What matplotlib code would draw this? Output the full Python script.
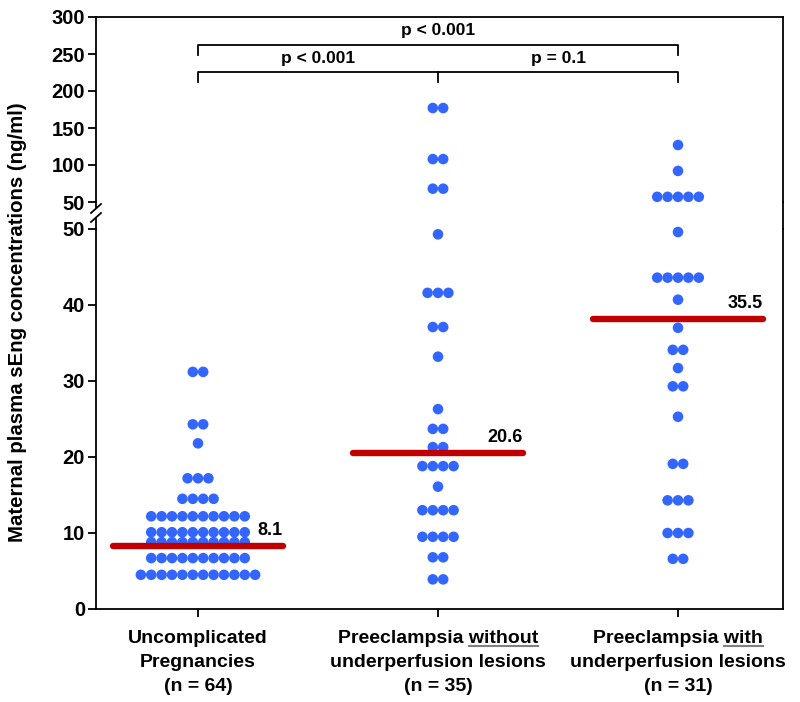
import matplotlib
matplotlib.use("Agg")
import matplotlib.pyplot as plt
import matplotlib.transforms as mtransforms
from matplotlib.lines import Line2D

plt.rcParams['font.family'] = ['Liberation Sans', 'DejaVu Sans']
plt.rcParams['font.weight'] = 'bold'

# ---------------- data ----------------
group_positions = [1, 2, 3]
label_line1 = ["Uncomplicated", "Preeclampsia without", "Preeclampsia with"]
label_underline = [None, "without", "with"]
label_line2 = ["Pregnancies", "underperfusion lesions", "underperfusion lesions"]
label_line3 = ["(n = 64)", "(n = 35)", "(n = 31)"]

# distinct levels (ng/ml) and number of dots at each level
g1_levels = [31.2, 24.3, 21.8, 17.2, 14.5, 12.2, 10.1, 8.8, 6.7, 4.5]
g1_counts = [2, 2, 1, 3, 4, 10, 10, 10, 10, 12]

g2_levels = [177, 108, 68, 49.3, 41.6, 37.1, 33.2, 26.3, 23.7, 21.3, 18.8, 16.1, 13.0, 9.5, 6.8, 3.9]
g2_counts = [2, 2, 2, 1, 3, 2, 1, 1, 2, 2, 4, 1, 4, 4, 2, 2]

g3_levels = [127, 92, 57, 49.6, 43.6, 40.7, 37.0, 34.1, 31.7, 29.3, 25.3, 19.1, 14.3, 10.0, 6.6]
g3_counts = [1, 1, 5, 1, 5, 1, 1, 2, 1, 2, 1, 2, 3, 3, 2]

median_values = [8.3, 20.5, 38.2]
median_labels = ["8.1", "20.6", "35.5"]

bottom_yticks = [0, 10, 20, 30, 40, 50]
top_yticks = [50, 100, 150, 200, 250, 300]

p_texts = ["p < 0.001", "p < 0.001", "p = 0.1"]

# ---------------- figure ----------------
W, H = 800, 702
fig = plt.figure(figsize=(W / 100, H / 100), dpi=100)

L, R = 96, 783
top_y0, top_y1 = 17, 202
bot_y0, bot_y1 = 229, 609

ax_top = fig.add_axes([L / W, 1 - top_y1 / H, (R - L) / W, (top_y1 - top_y0) / H])
ax_bot = fig.add_axes([L / W, 1 - bot_y1 / H, (R - L) / W, (bot_y1 - bot_y0) / H])

xlim = (0.575, 3.4375)
dot_color = "#3366FF"
median_color = "#C00000"
dot_step = 0.0433
spine_lw = 1.3
tick_fs = 14.5
xlab_fs = 14
ylab_fs = 14.7
p_fs = 12.5
med_fs = 13

for ax in (ax_top, ax_bot):
    ax.set_xlim(*xlim)
    for sp in ax.spines.values():
        sp.set_linewidth(spine_lw)
    ax.tick_params(axis='y', direction='out', length=6, width=1.3, labelsize=tick_fs, pad=2)

ax_top.set_ylim(50, 300)
ax_top.set_yticks(top_yticks)
ax_top.spines['bottom'].set_visible(False)
ax_top.set_xticks([])

ax_bot.set_ylim(0, 50)
ax_bot.set_yticks(bottom_yticks)
ax_bot.spines['top'].set_visible(False)
ax_bot.set_xticks(group_positions)
ax_bot.set_xticklabels([])
ax_bot.tick_params(axis='x', direction='out', length=6, width=1.3)

for ax in (ax_top, ax_bot):
    for lab in ax.get_yticklabels():
        lab.set_fontweight('bold')

# ---------------- dots ----------------
groups = [(g1_levels, g1_counts), (g2_levels, g2_counts), (g3_levels, g3_counts)]
for pos, (levels, counts) in zip(group_positions, groups):
    for v, c in zip(levels, counts):
        xs = [pos + (i - (c - 1) / 2) * dot_step for i in range(c)]
        ax = ax_top if v > 50 else ax_bot
        ax.scatter(xs, [v] * c, s=58, color=dot_color, edgecolors='none', zorder=3,
                   clip_on=False)

# ---------------- medians ----------------
half = 0.354
for pos, m, lab in zip(group_positions, median_values, median_labels):
    ax_bot.plot([pos - half, pos + half], [m, m], color=median_color, lw=4.6,
                solid_capstyle='round', zorder=4)
    ax_bot.text(pos + half, m + 2.0, lab, ha='right', va='center', fontsize=med_fs,
                fontweight='bold', zorder=5)

# ---------------- p-value brackets ----------------
bt = mtransforms.blended_transform_factory(ax_top.transData, ax_top.transAxes)
def frac(py):
    return (top_y1 - py) / (top_y1 - top_y0)

yu, yu_end = frac(45), frac(55)
yl, yl_end = frac(72), frac(82)
ax_top.plot([1, 1, 3, 3], [yu_end, yu, yu, yu_end], color='black', lw=1.3, transform=bt)
ax_top.plot([1, 1, 3, 3], [yl_end, yl, yl, yl_end], color='black', lw=1.3, transform=bt)
ax_top.plot([2, 2], [yl, yl_end], color='black', lw=1.3, transform=bt)
ax_top.text(2.0, frac(31), p_texts[0], ha='center', va='center', fontsize=p_fs,
            fontweight='bold', transform=bt)
ax_top.text(1.5, frac(58), p_texts[1], ha='center', va='center', fontsize=p_fs,
            fontweight='bold', transform=bt)
ax_top.text(2.5, frac(58), p_texts[2], ha='center', va='center', fontsize=p_fs,
            fontweight='bold', transform=bt)

# ---------------- axis break ----------------
def fl(x0, y0, x1, y1, **kw):
    fig.add_artist(Line2D([x0 / W, x1 / W], [1 - y0 / H, 1 - y1 / H], color='black',
                          transform=fig.transFigure, **kw))

fl(R, top_y1, R, bot_y0, lw=spine_lw)
fl(L, top_y1, L, 207, lw=spine_lw)
fl(L, 219, L, bot_y0, lw=spine_lw)
fl(91, 213, 101, 204, lw=1.3)
fl(91, 222, 101, 213, lw=1.3)

# ---------------- y label ----------------
fig.text(18 / W, 1 - 322 / H, "Maternal plasma sEng concentrations (ng/ml)",
         rotation=90, ha='center', va='center', fontsize=ylab_fs, fontweight='bold')

# ---------------- x labels ----------------
xt = mtransforms.blended_transform_factory(ax_bot.transData, fig.transFigure)
base1, base2, base3 = 643, 667, 691
texts1 = []
for pos, l1, l2, l3 in zip(group_positions, label_line1, label_line2, label_line3):
    t1 = fig.text(pos, 1 - base1 / H, l1, ha='center', va='baseline', fontsize=xlab_fs,
                  fontweight='bold', transform=xt)
    fig.text(pos, 1 - base2 / H, l2, ha='center', va='baseline', fontsize=xlab_fs,
             fontweight='bold', transform=xt)
    fig.text(pos, 1 - base3 / H, l3, ha='center', va='baseline', fontsize=xlab_fs,
             fontweight='bold', transform=xt)
    texts1.append(t1)

fig.canvas.draw()
renderer = fig.canvas.get_renderer()
for t1, word in zip(texts1, label_underline):
    if word is None:
        continue
    ext = t1.get_window_extent(renderer)
    tmp = fig.text(0, 0, word, fontsize=xlab_fs, fontweight='bold')
    wext = tmp.get_window_extent(renderer)
    tmp.remove()
    x1 = ext.x1
    x0 = x1 - wext.width
    uy = base1 + 3
    fig.add_artist(Line2D([x0 / W, x1 / W], [1 - uy / H, 1 - uy / H], color='#808080',
                          lw=1.5, transform=fig.transFigure))

fig.savefig("out.png", dpi=100)
